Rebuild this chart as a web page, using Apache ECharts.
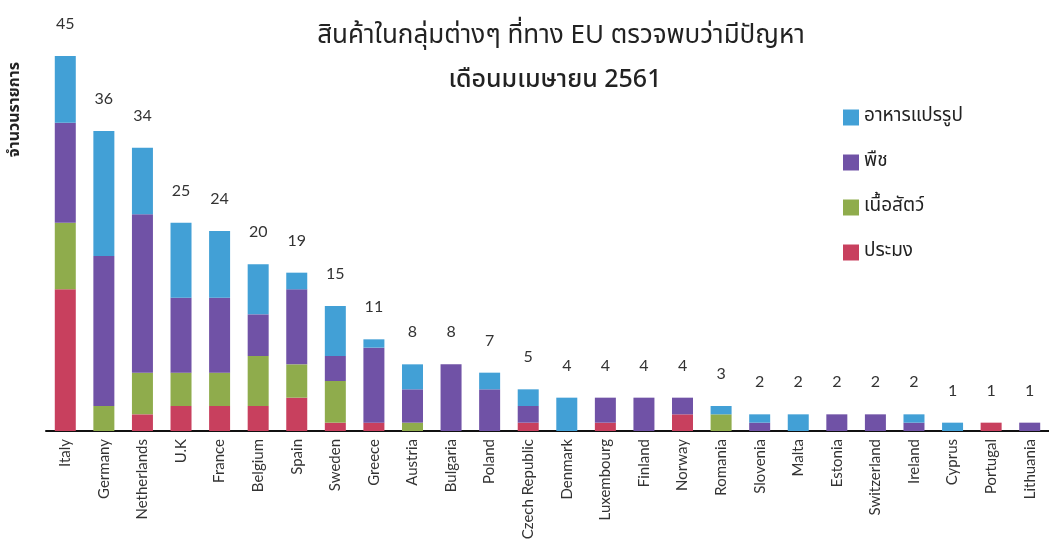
<!DOCTYPE html>
<html>
<head>
<meta charset="utf-8">
<script src="https://cdn.jsdelivr.net/npm/echarts@6/dist/echarts.min.js"></script>
<style>
html,body{margin:0;padding:0;background:#fff;}
#chart{width:1049px;height:556px;}
</style>
</head>
<body>
<div id="chart"></div>
<script>
const categories = ['Italy','Germany','Netherlands','U.K','France','Belgium','Spain','Sweden','Greece','Austria','Bulgaria','Poland','Czech Republic','Denmark','Luxembourg','Finland','Norway','Romania','Slovenia','Malta','Estonia','Switzerland','Ireland','Cyprus','Portugal','Lithuania'];
const fishery   = [17,0,2,3,3,3,4,1,1,0,0,0,1,0,1,0,2,0,0,0,0,0,0,0,1,0];
const meat      = [8,3,5,4,4,6,4,5,0,1,0,0,0,0,0,0,0,2,0,0,0,0,0,0,0,0];
const plant     = [12,18,19,9,9,5,9,3,9,4,8,5,2,0,3,4,2,0,1,0,2,2,1,0,0,1];
const processed = [8,15,8,9,8,6,2,6,1,3,0,2,2,4,0,0,0,1,1,2,0,0,1,1,0,0];
const seriesNames = ['ประมง','เนื้อสัตว์','พืช','อาหารแปรรูป'];
const titleLine1 = 'สินค้าในกลุ่มต่างๆ ที่ทาง EU ตรวจพบว่ามีปัญหา';
const titleLine2 = 'เดือนมเมษายน 2561';
const yName = 'จำนวนรายการ';

const totals = categories.map((c, i) => fishery[i] + meat[i] + plant[i] + processed[i]);
const colors = ['#c8405e', '#8fac4c', '#7052a6', '#42a0d6'];
const thaiFont = '"Noto Sans Thai", "Tahoma", "Leelawadee UI", "Noto Sans", sans-serif';

const chart = echarts.init(document.getElementById('chart'));
const seriesData = [fishery, meat, plant, processed];
const series = seriesData.map((d, k) => ({
  name: seriesNames[k],
  type: 'bar',
  stack: 'all',
  barWidth: 21,
  data: d,
  itemStyle: { color: colors[k] }
}));
series.push({
  name: 'total',
  type: 'bar',
  barWidth: 21,
  barGap: '-100%',
  data: totals,
  itemStyle: { color: 'rgba(0,0,0,0)' },
  z: 1,
  silent: true,
  label: { show: true, position: 'top', distance: 24, color: '#333', fontSize: 16, fontFamily: 'Lato, sans-serif' }
});

chart.setOption({
  animation: false,
  backgroundColor: '#fff',
  color: colors,
  title: [
    { text: titleLine1, left: 556, top: 20, textAlign: 'center', textStyle: { fontSize: 26, fontWeight: 'normal', color: '#222', fontFamily: thaiFont } },
    { text: titleLine2, left: 550, top: 64, textAlign: 'center', textStyle: { fontSize: 25, fontWeight: 500, color: '#222', fontFamily: thaiFont } }
  ],
  legend: {
    data: ['อาหารแปรรูป','พืช','เนื้อสัตว์','ประมง'],
    orient: 'vertical',
    left: 838,
    top: 103,
    itemWidth: 16,
    itemHeight: 16,
    itemGap: 26,
    icon: 'rect',
    textStyle: { fontSize: 19, color: '#222', fontFamily: thaiFont }
  },
  graphic: [{
    type: 'text',
    left: 8,
    top: 62,
    rotation: Math.PI / 2,
    style: { text: yName, font: 'bold 16px ' + thaiFont, fill: '#222' }
  }],
  grid: { left: 46, right: -6, top: 56, bottom: 125, containLabel: false },
  xAxis: {
    type: 'category',
    data: categories,
    axisLine: { lineStyle: { color: '#111', width: 2 } },
    axisTick: { show: false },
    axisLabel: { rotate: 90, interval: 0, margin: 8, fontSize: 15, color: '#333', fontFamily: 'Lato, sans-serif' }
  },
  yAxis: {
    type: 'value',
    min: 0,
    max: 45,
    show: false,
    splitLine: { show: false }
  },
  series: series
});
</script>
</body>
</html>
